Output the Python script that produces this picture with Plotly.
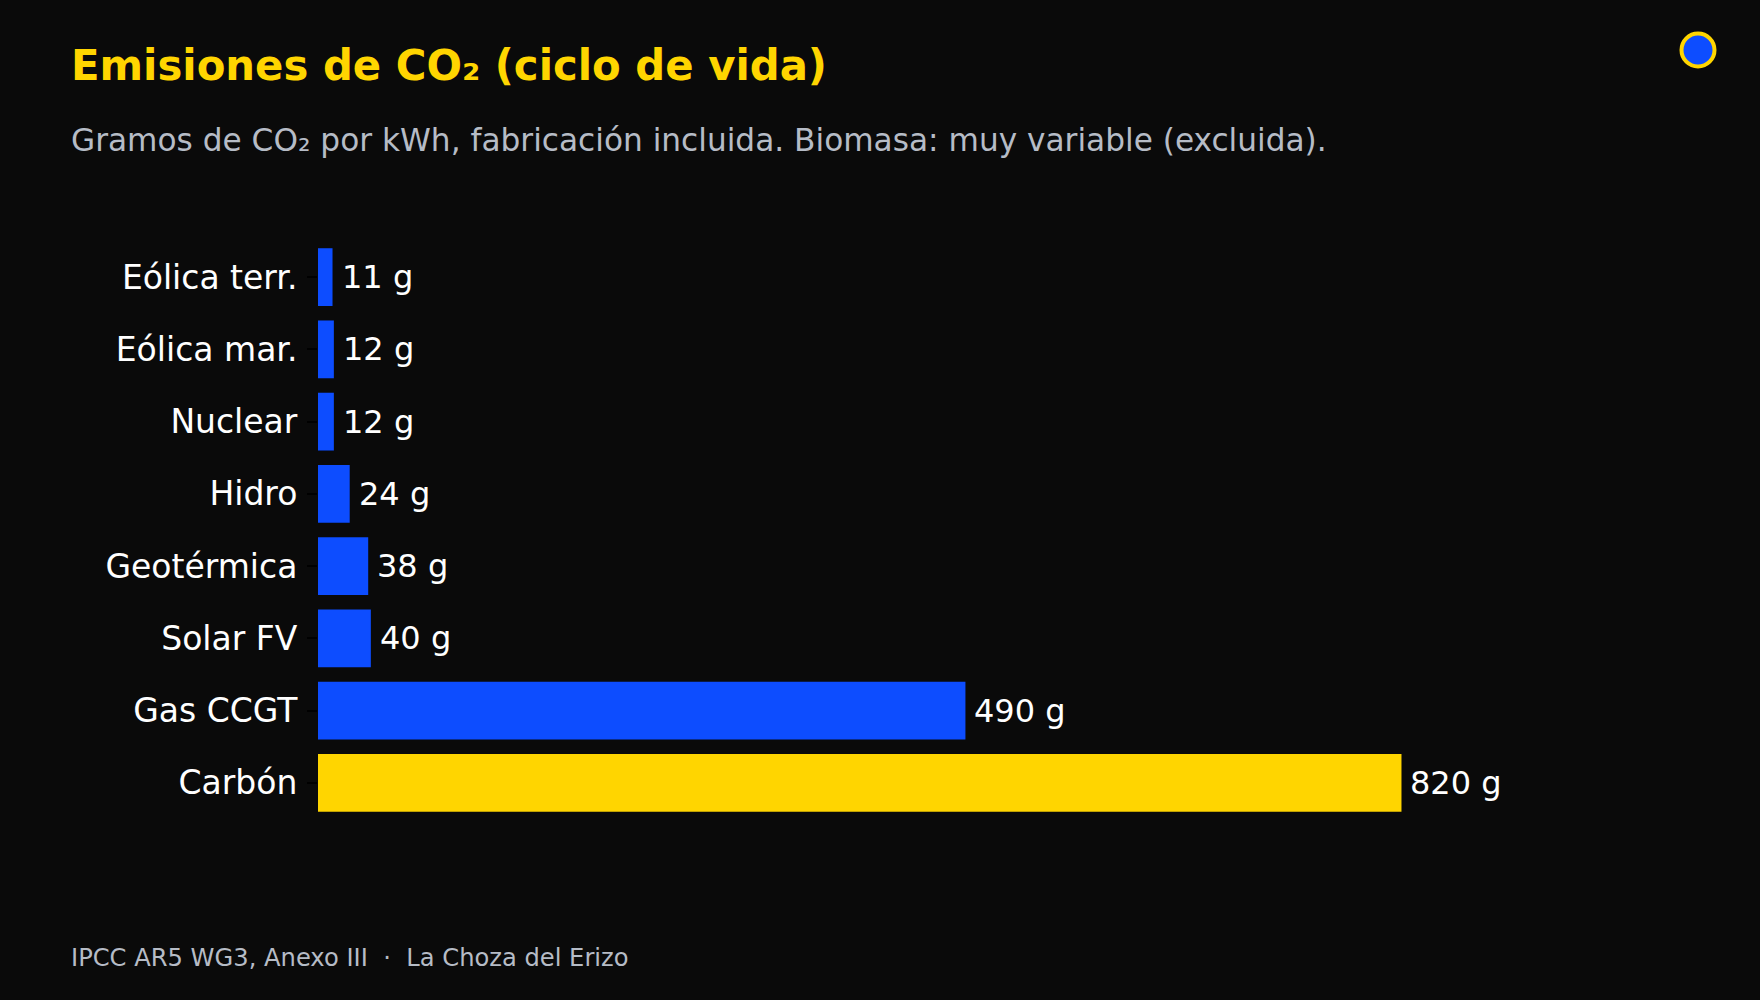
import plotly.graph_objects as go

# ---- data ----
categories = ["Eólica terr.", "Eólica mar.", "Nuclear", "Hidro", "Geotérmica", "Solar FV", "Gas CCGT", "Carbón"]
values = [11, 12, 12, 24, 38, 40, 490, 820]
value_labels = ["11 g", "12 g", "12 g", "24 g", "38 g", "40 g", "490 g", "820 g"]
highlight = ["Carbón"]

title_text = "Emisiones de CO₂ (ciclo de vida)"
subtitle_text = "Gramos de CO₂ por kWh, fabricación incluida. Biomasa: muy variable (excluida)."
footer_text = "IPCC AR5 WG3, Anexo III\u00a0\u00a0·\u00a0\u00a0La Choza del Erizo"

# ---- style ----
BG = "#0a0a0a"
BLUE = "#0d4dff"
YELLOW = "#ffd500"
GREY = "#b6bcc6"
FONT = "DejaVu Sans"

W, H = 1760, 1000
L, R, T, B = 318, 196, 241, 181
PW, PH = W - L - R, H - T - B


def px_x(x):
    return (x - L) / PW


def px_y(y):
    return (H - B - y) / PH


colors = [YELLOW if c in highlight else BLUE for c in categories]

fig = go.Figure()
fig.add_trace(go.Bar(
    x=values, y=categories, orientation="h",
    marker=dict(color=colors, line=dict(width=0)),
    hoverinfo="skip",
))

for c, v, lab in zip(categories, values, value_labels):
    fig.add_annotation(x=v, y=c, xref="x", yref="y", text=lab, showarrow=False,
                       xanchor="left", yanchor="middle", xshift=7,
                       font=dict(family=FONT, size=32, color="#ffffff"))

# title, subtitle, footer
fig.add_annotation(x=px_x(69), y=px_y(66), xref="paper", yref="paper", text="<b>" + title_text + "</b>",
                   showarrow=False, xanchor="left", yanchor="middle",
                   font=dict(family=FONT, size=41.8, color=YELLOW))
fig.add_annotation(x=px_x(69), y=px_y(140), xref="paper", yref="paper", text=subtitle_text,
                   showarrow=False, xanchor="left", yanchor="middle",
                   font=dict(family=FONT, size=31.2, color=GREY))
fig.add_annotation(x=px_x(69), y=px_y(958), xref="paper", yref="paper", text=footer_text,
                   showarrow=False, xanchor="left", yanchor="middle",
                   font=dict(family=FONT, size=24.2, color=GREY))

# logo
cx, cy, rr = 1698, 50, 16.5
fig.add_shape(type="circle", xref="paper", yref="paper",
              x0=px_x(cx - rr), x1=px_x(cx + rr), y0=px_y(cy + rr), y1=px_y(cy - rr),
              fillcolor=BLUE, line=dict(color=YELLOW, width=4))

fig.update_layout(
    width=W, height=H,
    margin=dict(l=L, r=R, t=T, b=B, pad=0),
    paper_bgcolor=BG, plot_bgcolor=BG,
    bargap=0.2,
    showlegend=False,
    font=dict(family=FONT, color="#ffffff"),
    xaxis=dict(range=[0, max(values) * 1.15], visible=False, showgrid=False, zeroline=False),
    yaxis=dict(autorange="reversed", showgrid=False, zeroline=False, showline=False,
               ticks="outside", ticklen=10, tickcolor="#000000", tickwidth=2,
               tickfont=dict(family=FONT, size=33, color="#ffffff"),
               ticklabelstandoff=3),
)

fig.write_html("out.html", config={"displayModeBar": False},
               post_script="document.body.style.margin='0';document.body.style.background='#0a0a0a';")
